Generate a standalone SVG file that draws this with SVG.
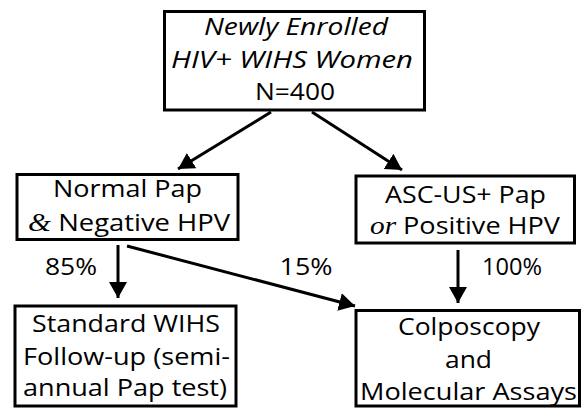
<svg xmlns="http://www.w3.org/2000/svg" width="583" height="408" viewBox="0 0 583 408">
<style>
.box{fill:#fff;stroke:#000;stroke-width:3}
.t{font-family:"Open Sans","Noto Sans",sans-serif;font-size:24px;fill:#000;text-anchor:middle}
.i{font-style:italic}
.s{font-family:"Liberation Serif",serif;font-style:italic;font-size:26px}
.c{stroke:#000;stroke-width:3;fill:none}
</style>
<defs>
<marker id="ah" markerUnits="userSpaceOnUse" markerWidth="20" markerHeight="20" refX="16" refY="9" orient="auto">
<path d="M0,0 L16,9 L0,18 Z" fill="#000"/>
</marker>
</defs>
<g id="connectors">
<line class="c" x1="271" y1="112" x2="178" y2="169" marker-end="url(#ah)"/>
<line class="c" x1="312" y1="112" x2="402" y2="170" marker-end="url(#ah)"/>
<line class="c" x1="118" y1="245" x2="118" y2="298" marker-end="url(#ah)"/>
<line class="c" x1="127" y1="246" x2="355" y2="306" marker-end="url(#ah)"/>
<line class="c" x1="458" y1="250" x2="458" y2="303" marker-end="url(#ah)"/>
<text class="t" x="71" y="275" textLength="52" lengthAdjust="spacingAndGlyphs">85%</text>
<text class="t" x="306" y="275" textLength="53" lengthAdjust="spacingAndGlyphs">15%</text>
<text class="t" x="512" y="275" textLength="60" lengthAdjust="spacingAndGlyphs">100%</text>
</g>
<g id="top">
<rect class="box" x="164.5" y="11.5" width="260" height="98.5"/>
<text class="t i" x="296" y="35" textLength="184" lengthAdjust="spacingAndGlyphs">Newly Enrolled</text>
<text class="t i" x="292" y="68" textLength="242" lengthAdjust="spacingAndGlyphs">HIV+ WIHS Women</text>
<text class="t" x="295" y="100" textLength="80" lengthAdjust="spacingAndGlyphs">N=400</text>
</g>
<g id="normal">
<rect class="box" x="17" y="174.5" width="221" height="65"/>
<text class="t" x="127.5" y="197" textLength="149" lengthAdjust="spacingAndGlyphs">Normal Pap</text>
<text class="t" x="129" y="231" textLength="202" lengthAdjust="spacingAndGlyphs"><tspan class="s">&amp;</tspan> Negative HPV</text>
</g>
<g id="abnormal">
<rect class="box" x="356" y="176" width="218.5" height="67"/>
<text class="t" x="465.5" y="203" textLength="161" lengthAdjust="spacingAndGlyphs">ASC-US+ Pap</text>
<text class="t" x="465" y="234" textLength="190" lengthAdjust="spacingAndGlyphs"><tspan class="s">or</tspan> Positive HPV</text>
</g>
<g id="standard">
<rect class="box" x="15" y="306" width="221" height="100"/>
<text class="t" x="126" y="332" textLength="188" lengthAdjust="spacingAndGlyphs">Standard WIHS</text>
<text class="t" x="126.5" y="365" textLength="207" lengthAdjust="spacingAndGlyphs">Follow-up (semi-</text>
<text class="t" x="125" y="396" textLength="204" lengthAdjust="spacingAndGlyphs">annual Pap test)</text>
</g>
<g id="colpo">
<rect class="box" x="356" y="310.5" width="223.5" height="95.5"/>
<text class="t" x="469" y="335" textLength="142" lengthAdjust="spacingAndGlyphs">Colposcopy</text>
<text class="t" x="468.5" y="368" textLength="47" lengthAdjust="spacingAndGlyphs">and</text>
<text class="t" x="468.5" y="400" textLength="217" lengthAdjust="spacingAndGlyphs">Molecular Assays</text>
</g>
</svg>
